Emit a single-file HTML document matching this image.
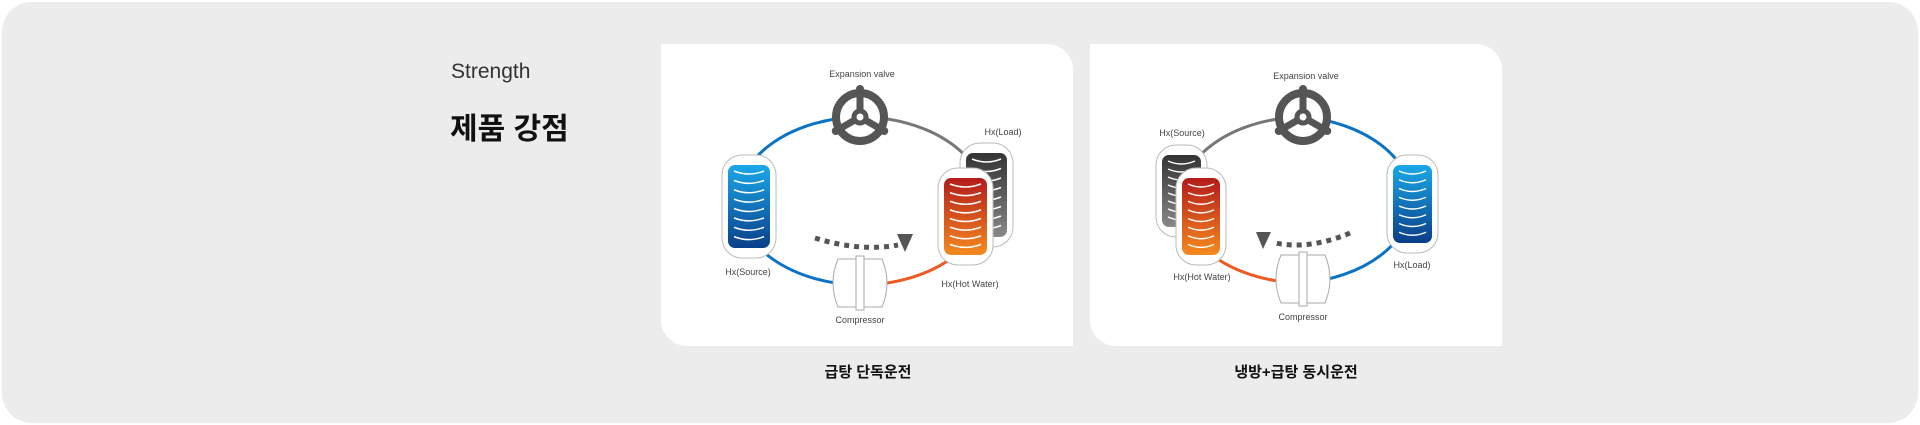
<!DOCTYPE html>
<html><head><meta charset="utf-8"><style>
html,body{margin:0;padding:0;background:#fff;}
body{width:1920px;height:425px;position:relative;overflow:hidden;font-family:"Liberation Sans","Noto Sans CJK KR",sans-serif;}
.bg{position:absolute;left:2px;top:2px;width:1916px;height:421px;background:#ececec;border-radius:30px;}
.card{position:absolute;top:44px;width:412px;height:302px;background:#fff;border-radius:0 26px 0 26px;}
.t{position:absolute;white-space:nowrap;}
</style></head><body>
<div class="bg"></div>
<div class="t" style="left:451px;top:60px;font-size:21px;color:#333;">Strength</div>
<div class="t" style="left:450px;top:104px;font-size:30px;font-weight:bold;color:#111;">제품 강점</div>
<div class="card" style="left:661px;"></div>
<div class="card" style="left:1090px;"></div>
<div class="t" style="left:868px;top:361px;transform:translateX(-50%);font-size:15px;font-weight:bold;color:#111;">급탕 단독운전</div>
<div class="t" style="left:1296px;top:361px;transform:translateX(-50%);font-size:15px;font-weight:bold;color:#111;">냉방+급탕 동시운전</div>
<svg id="s" width="1920" height="425" style="position:absolute;left:0;top:0" xmlns="http://www.w3.org/2000/svg" font-family="Liberation Sans, sans-serif" font-size="9" fill="#444">
<defs>
<linearGradient id="gb" x1="0" y1="0" x2="0" y2="1"><stop offset="0" stop-color="#1aa8e8"/><stop offset="1" stop-color="#0a3f8a"/></linearGradient>
<linearGradient id="gr" x1="0" y1="0" x2="0" y2="1"><stop offset="0" stop-color="#b31b1b"/><stop offset="1" stop-color="#f58a1f"/></linearGradient>
<linearGradient id="gg" x1="0" y1="0" x2="0" y2="1"><stop offset="0" stop-color="#333"/><stop offset="1" stop-color="#888"/></linearGradient>
</defs>
<g fill="none" stroke-width="3">
<path d="M860 117 A125 84 0 0 0 738 201" stroke="#0a73c4"/>
<path d="M738 201 A125 84 0 0 0 860 285" stroke="#0a73c4"/>
<path d="M860 117 A125 84 0 0 1 985 201" stroke="#777"/>
<path d="M860 285 A125 84 0 0 0 985 201" stroke="#f05a22"/>
<path d="M1303 117 A125 84 0 0 0 1180 200" stroke="#777"/>
<path d="M1180 200 A125 84 0 0 0 1303 283" stroke="#f05a22"/>
<path d="M1303 117 A125 84 0 0 1 1412 200" stroke="#0a73c4"/>
<path d="M1303 283 A125 84 0 0 0 1412 200" stroke="#0a73c4"/>
</g>
<g id="dyn"></g>
<path d="M815 238 Q860 252 898 245" fill="none" stroke="#555" stroke-width="5" stroke-dasharray="5 5"/>
<polygon points="897,234 913,234 905,252" fill="#555"/>
<path d="M1350 233 Q1310 250 1275 243" fill="none" stroke="#555" stroke-width="5" stroke-dasharray="5 5"/>
<polygon points="1256,232 1271,232 1263,249" fill="#555"/>
<g text-anchor="middle">
<text x="862" y="77">Expansion valve</text>
<text x="1003" y="135">Hx(Load)</text>
<text x="748" y="275">Hx(Source)</text>
<text x="970" y="287">Hx(Hot Water)</text>
<text x="860" y="323">Compressor</text>
<text x="1306" y="79">Expansion valve</text>
<text x="1182" y="136">Hx(Source)</text>
<text x="1202" y="280">Hx(Hot Water)</text>
<text x="1412" y="268">Hx(Load)</text>
<text x="1303" y="320">Compressor</text>
</g>
</svg>
<script>
var g=document.getElementById('dyn'),h='';
function coil(x,y,w,hh,grad){
 h+='<rect x="'+x+'" y="'+y+'" width="'+w+'" height="'+hh+'" rx="20" fill="#fff" stroke="#bbb" stroke-width="1"/>';
 var cx=x+6,cy=y+10,cw=w-12,ch=hh-20;
 h+='<rect x="'+cx+'" y="'+cy+'" width="'+cw+'" height="'+ch+'" rx="7" fill="url(#'+grad+')"/>';
 for(var i=0;i<8;i++){var yy=cy+6+i*(ch-8)/8;
  h+='<path d="M'+(cx+6)+' '+yy+' Q'+(cx+cw/2)+' '+(yy+6)+' '+(cx+cw-6)+' '+yy+'" fill="none" stroke="#fff" stroke-width="1.5"/>';}
}
function valve(x,y){
 h+='<circle cx="'+x+'" cy="'+y+'" r="24" fill="#fff" stroke="#555" stroke-width="8"/>';
 h+='<circle cx="'+x+'" cy="'+y+'" r="6" fill="none" stroke="#555" stroke-width="5"/>';
 [270,30,150].forEach(function(a){var r=a*Math.PI/180;
  h+='<line x1="'+(x+Math.cos(r)*7)+'" y1="'+(y+Math.sin(r)*7)+'" x2="'+(x+Math.cos(r)*24)+'" y2="'+(y+Math.sin(r)*24)+'" stroke="#555" stroke-width="7"/>';
  h+='<circle cx="'+(x+Math.cos(r)*28)+'" cy="'+(y+Math.sin(r)*28)+'" r="4" fill="#555"/>';});
}
function comp(x,y){
 h+='<path d="M'+(x-22)+' '+y+' L'+(x+22)+' '+y+' Q'+(x+32)+' '+(y+24)+' '+(x+22)+' '+(y+48)+' L'+(x-22)+' '+(y+48)+' Q'+(x-32)+' '+(y+24)+' '+(x-22)+' '+y+'Z" fill="#fff" stroke="#aaa"/>';
 h+='<rect x="'+(x-4)+'" y="'+(y-3)+'" width="8" height="54" fill="#fff" stroke="#aaa"/>';
}
coil(722,155,54,103,'gb');
coil(960,143,53,104,'gg');
coil(938,168,55,97,'gr');
valve(860,117);comp(860,259);
coil(1156,145,51,92,'gg');
coil(1176,168,50,97,'gr');
coil(1387,155,51,98,'gb');
valve(1303,117);comp(1303,255);
g.innerHTML=h;
</script>
</body></html>
